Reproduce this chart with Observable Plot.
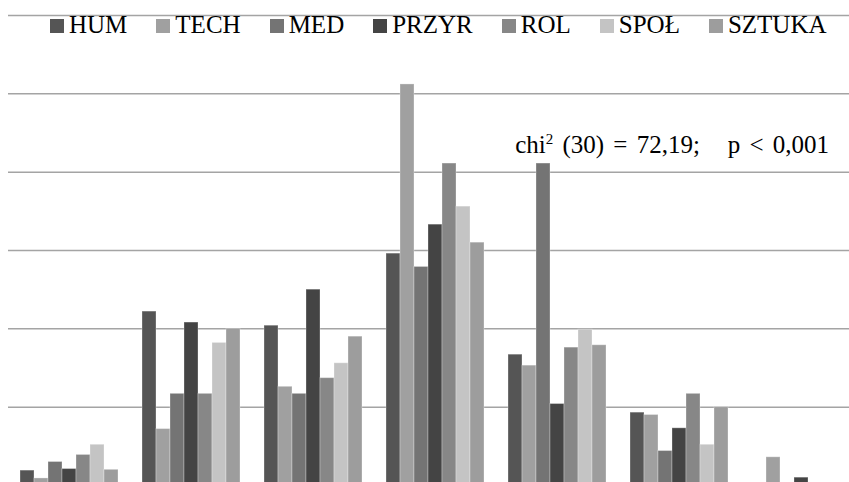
<!DOCTYPE html>
<html><head><meta charset="utf-8">
<script src="https://cdn.jsdelivr.net/npm/d3@7"></script>
<script src="https://cdn.jsdelivr.net/npm/@observablehq/plot@0.6"></script>
<style>
html,body{margin:0;padding:0;background:#fff;overflow:hidden;}
#wrap{position:relative;width:849px;height:482px;overflow:hidden;}
#wrap svg{position:absolute;left:0;top:0;}
.lg{position:absolute;left:50px;top:11.8px;display:flex;font:25px "Liberation Serif",serif;line-height:1;color:#000;white-space:nowrap;}
.lg .it{margin-right:29px;}
.lg .sw{display:inline-block;width:14px;height:14px;margin-right:5px;vertical-align:baseline;}
.note{position:absolute;right:20px;top:132.1px;font:25px "Liberation Serif",serif;line-height:1;white-space:pre;word-spacing:3px;color:#000;}
.note sup{font-size:15px;position:relative;top:0px;vertical-align:top;line-height:1;}
</style></head><body><div id="wrap"></div>
<script>
const categories = ["1","2","3","4","5","6","7"];
const series = ["HUM","TECH","MED","PRZYR","ROL","SPOŁ","SZTUKA"];
const colors = ["#555555","#a0a0a0","#747474","#444444","#878787","#c4c4c4","#9d9d9d"];
const HUM    = [0.95, 11.1, 10.2, 14.8,  8.35, 4.65, 0];
const TECH   = [0.45,  3.6,  6.3, 25.6,  7.65, 4.5,  1.8];
const MED    = [1.5,  5.85, 5.85, 13.95, 20.55, 2.2, 0];
const PRZYR  = [1.05, 10.4, 12.5, 16.65, 5.2, 3.65, 0.5];
const ROL    = [1.95, 5.85, 6.85, 20.55, 8.8, 5.85, 0];
const SPOL   = [2.6,  9.1,  7.8, 17.8,  9.95, 2.6,  0];
const SZTUKA = [1.0, 10.0,  9.5, 15.5,  8.95, 5.0,  0];
const gridTicks = [0, 5, 10, 15, 20, 25, 30];
const noteMain = "chi";
const noteSup = "2";
const noteRest = " (30) = 72,19;   p < 0,001";

const values = [HUM, TECH, MED, PRZYR, ROL, SPOL, SZTUKA];
const data = [];
series.forEach((s, i) => categories.forEach((c, j) => {
  if (values[i][j] > 0) data.push({cat: c, series: s, value: values[i][j]});
}));

const common = {
  width: 862, height: 485,
  marginLeft: 8, marginRight: 0, marginTop: 15, marginBottom: 0,
  style: "max-width:none;background:transparent;overflow:visible;",
  y: {domain: [0, 30], axis: null}
};

const grid = Plot.plot({
  ...common,
  x: {axis: null},
  marks: [Plot.ruleY(gridTicks, {stroke: "#a4a4a4", strokeWidth: 1.5})]
});

const bars = Plot.plot({
  ...common,
  fx: {domain: categories, paddingInner: 0.18, paddingOuter: 0.09, axis: null, label: null},
  x: {domain: series, padding: 0, axis: null},
  color: {domain: series, range: colors},
  marks: [
    Plot.barY(data, {fx: "cat", x: "series", y: "value", fill: "series",
      stroke: "#ffffff", strokeOpacity: 0.3, strokeWidth: 1})
  ]
});

const wrap = document.getElementById("wrap");
wrap.appendChild(grid);
wrap.appendChild(bars);

const lg = document.createElement("div");
lg.className = "lg";
series.forEach((s, i) => {
  const it = document.createElement("span");
  it.className = "it";
  const sw = document.createElement("span");
  sw.className = "sw";
  sw.style.background = colors[i];
  it.appendChild(sw);
  it.appendChild(document.createTextNode(s));
  lg.appendChild(it);
});
wrap.appendChild(lg);

const note = document.createElement("div");
note.className = "note";
note.appendChild(document.createTextNode(noteMain));
const sup = document.createElement("sup");
sup.textContent = noteSup;
note.appendChild(sup);
note.appendChild(document.createTextNode(noteRest));
wrap.appendChild(note);
</script></body></html>
